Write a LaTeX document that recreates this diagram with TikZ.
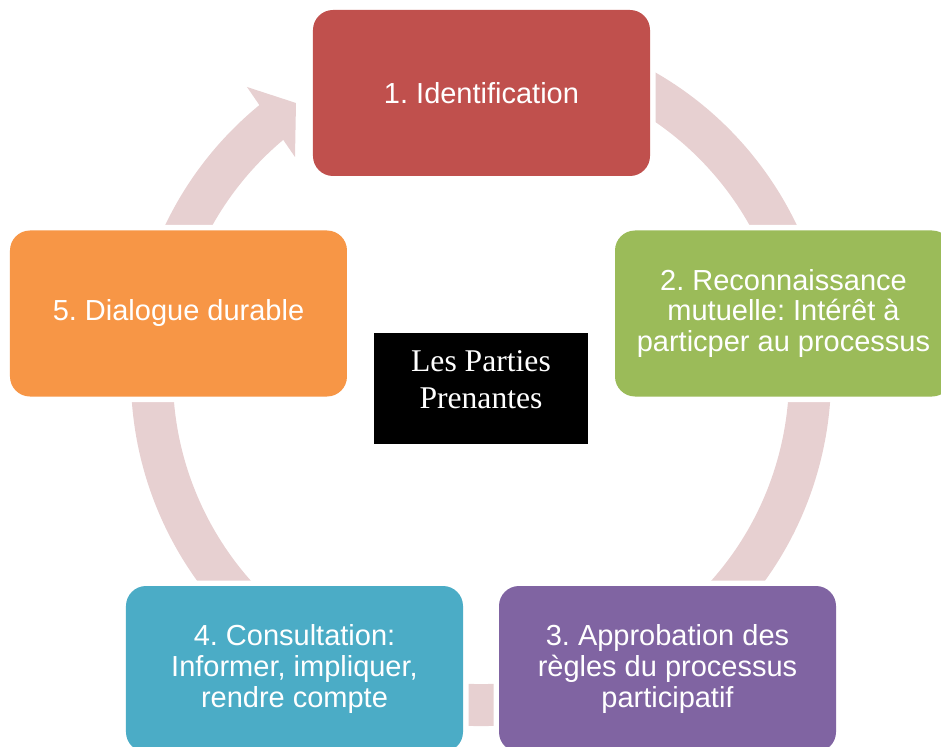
\documentclass[tikz,border=0pt]{standalone}
\usepackage{fontspec}
\setmainfont{Liberation Sans}
\newfontfamily\timesfont{Liberation Serif}
\usetikzlibrary{calc}
\definecolor{identred}{HTML}{C0504D}
\definecolor{recongreen}{HTML}{9BBB59}
\definecolor{approbviolet}{HTML}{8064A2}
\definecolor{consultblue}{HTML}{4BACC6}
\definecolor{dialogorange}{HTML}{F79646}
\definecolor{ringpink}{HTML}{E7D0D1}
\tikzset{
    stage/.style={rounded corners=0.4cm, minimum width=6.74cm, minimum height=3.32cm,
        inner sep=0pt, align=center, text=white,
        font=\frenchspacing\fontsize{16.5}{17.6}\selectfont,
        preaction={draw=white, line width=0.22cm}},
    ring/.style={color=ringpink}
}

\begin{document}
\begin{tikzpicture}
        \useasboundingbox (-9.62,-7.4) rectangle (9.2,7.52);
        \clip (-9.62,-7.4) rectangle (9.2,7.52);
        \draw[ring, line width=0.84cm] (75:6.58) arc[start angle=75, end angle=-232, radius=6.58];
        \fill[ring] (-4.68,5.78) -- (-3.70,5.46) -- (-3.72,4.38) -- cycle;
        \node[stage, fill=identred] (ident) at (0.01,5.66) {1. Identification};
        \node[stage, fill=recongreen] (recon) at (6.05,1.25)
            {2. Reconnaissance\\mutuelle: Intérêt à\\particper au processus};
        \node[stage, fill=approbviolet] (approb) at (3.73,-5.86)
            {3. Approbation des\\règles du processus\\participatif};
        \node[stage, fill=consultblue] (consult) at (-3.73,-5.86)
            {4. Consultation:\\Informer, impliquer,\\rendre compte};
        \node[stage, fill=dialogorange] (dialogue) at (-6.05,1.25) {5. Dialogue durable};
        \node[fill=black, minimum width=4.28cm, minimum height=2.22cm, inner sep=0pt,
            text=white, font=\timesfont\fontsize{18}{21}\selectfont]
            (parties) at (0,-0.25)
            {\raisebox{0.12cm}[\height][\depth]{\begin{tabular}{@{}c@{}}Les Parties\\Prenantes\end{tabular}}};
    \end{tikzpicture}
\end{document}
